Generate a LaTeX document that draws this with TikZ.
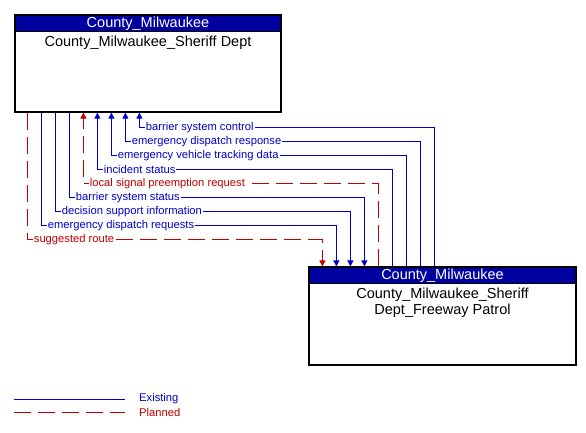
\documentclass[tikz,border=0pt]{standalone}
\usepackage{fontspec}
\setmainfont{Liberation Sans}
\usetikzlibrary{positioning,arrows.meta}
\definecolor{hdrblue}{RGB}{0,0,160}
\definecolor{flowblue}{RGB}{0,0,204}
\definecolor{flowred}{RGB}{192,0,0}

\begin{document}
\begin{tikzpicture}[x=1pt,y=-1pt,
    flow/.style={draw=flowblue,line width=1pt},
    planned/.style={draw=flowred,line width=1pt,dash pattern=on 17pt off 7pt},
    tip/.style={-{Triangle[width=6pt,length=6pt]}},
    lbl/.style={anchor=west,xshift=5pt,fill=white,inner xsep=1pt,inner ysep=0.5pt,
      font=\fontsize{11.2}{12}\selectfont,text=flowblue},
    legtxt/.style={anchor=west,inner sep=2pt,font=\fontsize{11.2}{12}\selectfont}]
  \useasboundingbox (0,0) rectangle (586,432);

  % the two centers
  \begin{scope}[every node/.style={draw=black,line width=1.2pt,inner sep=0pt,
      font=\fontsize{14.5}{16}\selectfont}]
    \node[minimum width=266pt,minimum height=97pt] (sheriff) at (148,63.5) {};
    \node[fill=hdrblue,text=white,minimum width=266pt,minimum height=16.5pt,anchor=north]
      (sheriffhdr) at (sheriff.north) {County\_Milwaukee};
    \node[minimum width=267pt,minimum height=98pt] (patrol) at (442.5,316) {};
    \node[fill=hdrblue,text=white,minimum width=267pt,minimum height=16.5pt,anchor=north]
      (patrolhdr) at (patrol.north) {County\_Milwaukee};
  \end{scope}
  \node[below=0pt of sheriffhdr,font=\fontsize{14.5}{16}\selectfont] (sheriffname)
    {County\_Milwaukee\_Sheriff Dept};
  \node[below=0pt of patrolhdr,align=center,font=\fontsize{14.5}{16}\selectfont] (patrolname)
    {County\_Milwaukee\_Sheriff\\Dept\_Freeway Patrol};

  % flows from the freeway patrol
  \draw[flow,tip] ([xshift=126pt]patrol.north west) |- ([xshift=125pt,yshift=-15pt]sheriff.south west)
    node[lbl] {barrier system control} -- ([xshift=125pt]sheriff.south west);
  \draw[flow,tip] ([xshift=112pt]patrol.north west) |- ([xshift=111pt,yshift=-29pt]sheriff.south west)
    node[lbl] {emergency dispatch response} -- ([xshift=111pt]sheriff.south west);
  \draw[flow,tip] ([xshift=98pt]patrol.north west) |- ([xshift=97pt,yshift=-43pt]sheriff.south west)
    node[lbl] {emergency vehicle tracking data} -- ([xshift=97pt]sheriff.south west);
  \draw[flow,tip] ([xshift=84pt]patrol.north west) |- ([xshift=83pt,yshift=-57pt]sheriff.south west)
    node[lbl] {incident status} -- ([xshift=83pt]sheriff.south west);
  \draw[planned,tip] ([xshift=70pt]patrol.north west) |- ([xshift=69pt,yshift=-71pt]sheriff.south west)
    node[lbl,text=flowred] {local signal preemption request} -- ([xshift=69pt]sheriff.south west);

  % flows from the sheriff dept
  \draw[flow,tip] ([xshift=55pt]sheriff.south west) -- ([xshift=55pt,yshift=-85pt]sheriff.south west)
    node[lbl] {barrier system status} -| ([xshift=56pt]patrol.north west);
  \draw[flow,tip] ([xshift=41pt]sheriff.south west) -- ([xshift=41pt,yshift=-99pt]sheriff.south west)
    node[lbl] {decision support information} -| ([xshift=42pt]patrol.north west);
  \draw[flow,tip] ([xshift=27pt]sheriff.south west) -- ([xshift=27pt,yshift=-113pt]sheriff.south west)
    node[lbl] {emergency dispatch requests} -| ([xshift=28pt]patrol.north west);
  \draw[planned,tip] ([xshift=13pt]sheriff.south west) -- ([xshift=13pt,yshift=-127pt]sheriff.south west)
    node[lbl,text=flowred] {suggested route} -| ([xshift=14pt]patrol.north west);

  % legend
  \node[legtxt,text=flowblue] (existing) at (137,399) {Existing};
  \node[legtxt,text=flowred] (planned) at (137,412) {Planned};
  \coordinate (existingend) at (14,399);
  \coordinate (plannedend) at (14,412);
  \draw[flow] (existingend) -- ([xshift=-12pt]existing.west);
  \draw[planned] (plannedend) -- ([xshift=-12pt]planned.west);
\end{tikzpicture}
\end{document}
